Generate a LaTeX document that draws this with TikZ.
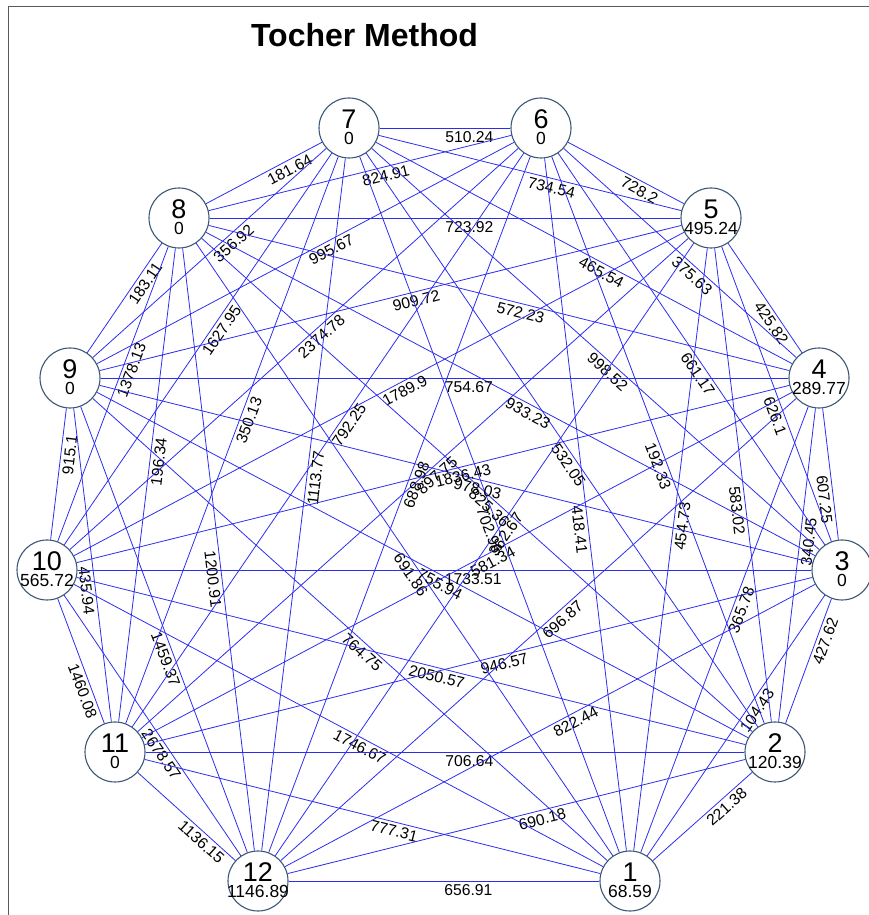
\documentclass[tikz,border=0pt]{standalone}
\usepackage{fontspec}
\setmainfont{Liberation Sans}
\definecolor{edgeblue}{RGB}{45,45,240}
\definecolor{nodeborder}{RGB}{60,88,118}
\definecolor{framegray}{RGB}{90,90,90}
\begin{document}
\begin{tikzpicture}[x=1pt,y=1pt,
  vnode/.style={circle,draw=nodeborder,line width=1.1pt,fill=white,minimum size=60pt,inner sep=0pt},
  numtxt/.style={font=\fontsize{27}{27}\selectfont,inner sep=0pt},
  valtxt/.style={font=\fontsize{17.5}{17.5}\selectfont,inner sep=0pt},
  edge/.style={draw=edgeblue,line width=0.8pt},
  elab/.style={midway,sloped,anchor=north west,inner xsep=0pt,inner ysep=3pt,font=\fontsize{15.7}{16}\selectfont,text=black},
  frameline/.style={draw=framegray,line width=1pt}]
\useasboundingbox (0,0) rectangle (869,915);
\coordinate (fa) at (8.5,0);
\coordinate (fb) at (8.5,908.5);
\coordinate (fc) at (869,908.5);
\draw[frameline] (fa) -- (fb) -- (fc);
\node[font=\bfseries\fontsize{32}{32}\selectfont,inner sep=0pt] (title) at (364.5,880) {Tocher Method};
% vertices
\foreach \n/\x/\y/\v in {1/630/34/68.59, 2/775/163/120.39, 3/842/345/0, 4/819/537/289.77,
  5/711/697/495.24, 6/541/787/0, 7/349/787/0, 8/179/697/0, 9/70/537/0,
  10/47/345/565.72, 11/115/163/0, 12/258/34/1146.89}{
  \node[vnode] (n\n) at (\x,\y) {};
  \node[numtxt] (t\n) at ([yshift=8.5pt]n\n.center) {\n};
  \node[valtxt] (v\n) at ([yshift=-10pt]n\n.center) {\v};
}
% edges with labels
\foreach \a/\b/\l in {
  1/2/221.38, 2/3/427.62, 3/4/607.25, 4/5/425.82, 5/6/728.2, 6/7/510.24,
  7/8/181.64, 8/9/183.11, 9/10/915.1, 10/11/1460.08, 11/12/1136.15, 12/1/656.91,
  1/3/104.43, 2/4/340.45, 3/5/626.1, 4/6/375.63, 5/7/734.54, 6/8/824.91,
  7/9/356.92, 8/10/1378.13, 9/11/435.94, 10/12/2678.57, 11/1/777.31, 12/2/690.18,
  1/4/365.78, 2/5/583.02, 3/6/661.17, 4/7/465.54, 5/8/723.92, 6/9/995.67,
  7/10/1627.95, 8/11/196.34, 9/12/1459.37, 10/1/1746.67, 11/2/706.64, 12/3/822.44,
  1/5/454.73, 2/6/192.33, 3/7/998.52, 4/8/572.23, 5/9/909.72, 6/10/2374.78,
  7/11/350.13, 8/12/1200.91, 9/1/764.75, 10/2/2050.57, 11/3/946.57, 12/4/696.87,
  1/6/418.41, 2/7/532.05, 3/8/933.23, 4/9/754.67, 5/10/1789.9, 6/11/792.25,
  7/12/1113.77, 8/1/691.86, 9/2/755.94, 10/3/1733.51, 11/4/581.34, 12/5/362.67,
  1/7/702.96, 2/8/825.36, 3/9/978.03, 4/10/1836.43, 5/11/897.75, 6/12/688.98}{
  \draw[edge] (n\a) -- (n\b) node[elab] {\l};
}
\end{tikzpicture}
\end{document}
